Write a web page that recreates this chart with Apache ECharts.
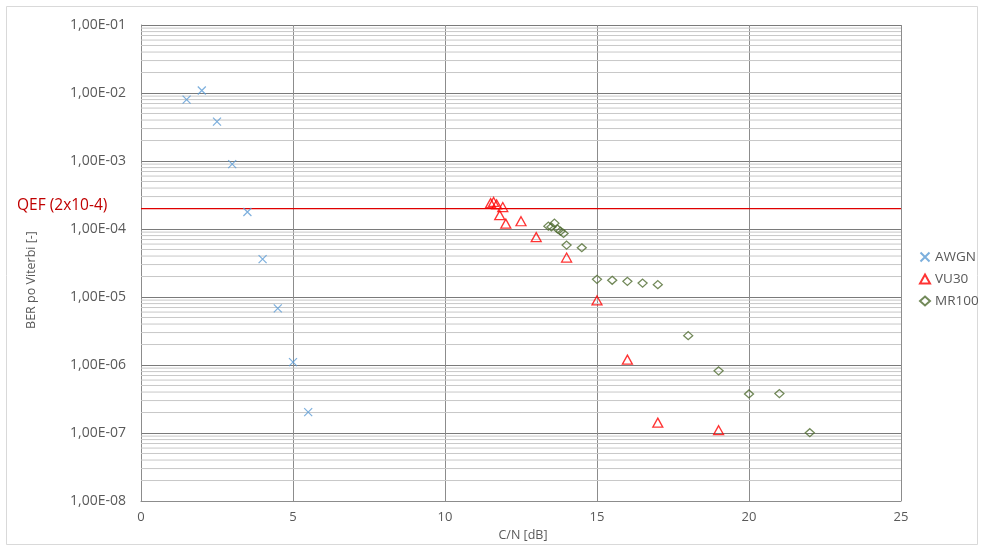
<!DOCTYPE html>
<html>
<head>
<meta charset="utf-8">
<script src="https://cdn.jsdelivr.net/npm/echarts@6/dist/echarts.min.js"></script>
<style>html,body{margin:0;padding:0;background:#fff;}#c{width:982px;height:549px;}</style>
</head>
<body>
<div id="c"></div>
<script>
// ---- data ----
const awgnX = [1.5, 2.0, 2.5, 3.0, 3.5, 4.0, 4.5, 5.0, 5.5];
const awgnY = [8.0e-3, 1.09e-2, 3.8e-3, 9.0e-4, 1.78e-4, 3.6e-5, 6.8e-6, 1.1e-6, 2.03e-7];
const vu30X = [11.5, 11.6, 11.7, 11.9, 11.8, 12.0, 12.5, 13.0, 14.0, 15.0, 16.0, 17.0, 19.0];
const vu30Y = [2.4e-4, 2.5e-4, 2.3e-4, 2.1e-4, 1.6e-4, 1.2e-4, 1.3e-4, 7.6e-5, 3.8e-5, 8.9e-6, 1.2e-6, 1.42e-7, 1.1e-7];
const mr100X = [13.4, 13.5, 13.6, 13.7, 13.8, 13.9, 14.0, 14.5, 15.0, 15.5, 16.0, 16.5, 17.0, 18.0, 19.0, 20.0, 21.0, 22.0];
const mr100Y = [1.1e-4, 1.07e-4, 1.22e-4, 1.0e-4, 9.3e-5, 8.6e-5, 5.8e-5, 5.3e-5, 1.82e-5, 1.76e-5, 1.7e-5, 1.6e-5, 1.52e-5, 2.7e-6, 8.2e-7, 3.75e-7, 3.8e-7, 1.01e-7];
const seriesNames = ['AWGN', 'VU30', 'MR100'];
const xTickLabels = ['0', '5', '10', '15', '20', '25'];
const yTickLabels = ['1,00E-08', '1,00E-07', '1,00E-06', '1,00E-05', '1,00E-04', '1,00E-03', '1,00E-02', '1,00E-01'];
const qefValue = 2e-4;
const qefLabel = 'QEF (2x10-4)';
const xName = 'C/N [dB]';
const yName = 'BER po Viterbi [-]';

// ---- build ----
const X_MIN = 0, X_MAX = 25;
const zip = (xs, ys) => xs.map((x, i) => [x, ys[i]]);
const hLine = (v, color, width, z) => ({
  type: 'line', data: [[X_MIN, v], [X_MAX, v]], symbol: 'none', silent: true, z: z,
  lineStyle: { color: color, width: width }, legendHoverLink: false, tooltip: { show: false }
});
const minorSeries = [];
for (let e = -8; e <= -2; e++) {
  for (let m = 2; m <= 9; m++) minorSeries.push(hLine(m * Math.pow(10, e), '#c8c8c8', 1, 1));
}
const FONT = '"Open Sans", "Noto Sans", sans-serif';
const chart = echarts.init(document.getElementById('c'), null, { renderer: 'canvas' });
chart.setOption({
  animation: false,
  backgroundColor: '#fff',
  grid: { left: 141, right: 81, top: 25, bottom: 48, containLabel: false },
  xAxis: {
    type: 'value', min: X_MIN, max: X_MAX, interval: 5,
    axisLine: { show: true, lineStyle: { color: '#8c8c8c', width: 1 } },
    axisTick: { show: false },
    axisLabel: { color: '#595959', fontSize: 13, fontFamily: FONT, margin: 10,
      formatter: v => xTickLabels[Math.round(v / 5)] },
    splitLine: { show: true, lineStyle: { color: '#8c8c8c', width: 1 } }
  },
  yAxis: {
    type: 'log', logBase: 10, min: 1e-8, max: 1e-1, interval: 1,
    axisLine: { show: true, lineStyle: { color: '#8c8c8c', width: 1 } },
    axisTick: { show: false },
    axisLabel: { color: '#595959', fontSize: 14, fontFamily: FONT, margin: 15,
      formatter: v => yTickLabels[Math.round(Math.log10(v)) + 8] },
    splitLine: { show: true, lineStyle: { color: '#7a7a7a', width: 1 } }
  },
  legend: {
    orient: 'vertical', left: 914, top: 245, itemGap: 8, itemWidth: 10, itemHeight: 9,
    data: seriesNames,
    textStyle: { color: '#595959', fontSize: 13.5, fontFamily: FONT }
  },
  graphic: [
    { type: 'rect', shape: { x: 6.5, y: 6.5, width: 971, height: 538 }, style: { fill: 'none', stroke: '#d9d9d9', lineWidth: 1 }, silent: true, z: -10 },
    { type: 'text', left: 17, top: 198, style: { text: qefLabel, fill: '#c00000', fontSize: 15.5, fontFamily: FONT } },
    { type: 'text', x: 31, y: 280, rotation: Math.PI / 2, style: { text: yName, fill: '#595959', fontSize: 12.5, fontFamily: FONT, align: 'center', verticalAlign: 'middle' } },
    { type: 'text', x: 523, y: 535, style: { text: xName, fill: '#595959', fontSize: 12.5, fontFamily: FONT, align: 'center', verticalAlign: 'middle' } }
  ],
  series: minorSeries.concat([
    hLine(qefValue, '#e00000', 1.3, 3),
    {
      name: 'AWGN', type: 'scatter', z: 5, data: zip(awgnX, awgnY),
      symbol: 'path://M0,0L10,10M10,0L0,10', symbolSize: 8,
      itemStyle: { color: 'rgba(0,0,0,0)', borderColor: '#5b9bd5', borderWidth: 1.2 }
    },
    {
      name: 'VU30', type: 'scatter', z: 5, data: zip(vu30X, vu30Y),
      symbol: 'triangle', symbolSize: [10, 9],
      itemStyle: { color: 'rgba(0,0,0,0)', borderColor: '#ff0000', borderWidth: 1.3 }
    },
    {
      name: 'MR100', type: 'scatter', z: 5, data: zip(mr100X, mr100Y),
      symbol: 'diamond', symbolSize: [9, 8],
      itemStyle: { color: 'rgba(0,0,0,0)', borderColor: '#4f6b2f', borderWidth: 1.3 }
    }
  ])
});
</script>
</body>
</html>
